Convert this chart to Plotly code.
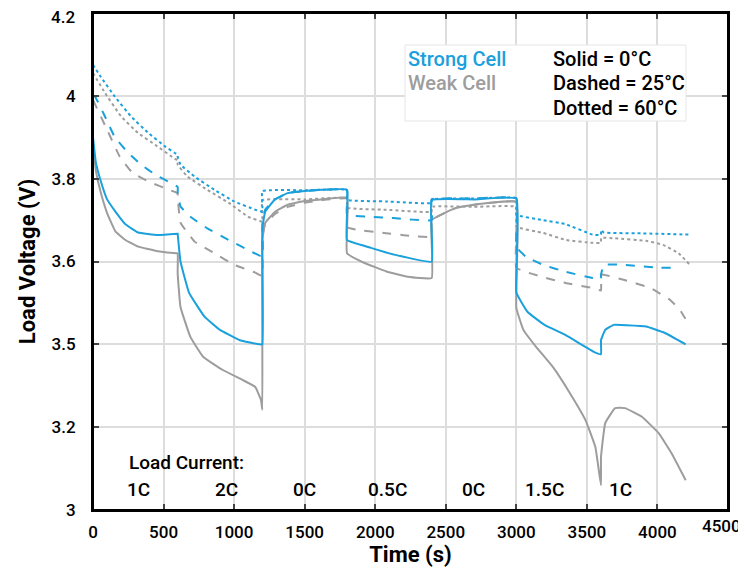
import plotly.graph_objects as go

# ---------------- data ----------------
# Strong cell, 0 degC (solid)
strong_0_t = [0, 20, 50, 100, 160, 230, 320, 460, 600,
              600, 620, 680, 790, 900, 1040, 1180, 1200,
              1200, 1220, 1290, 1380, 1500, 1620, 1800,
              1800, 1970, 2130, 2400,
              2400, 2700, 3000,
              3000, 3080, 3200, 3350, 3560, 3600,
              3600, 3630, 3690, 3780, 3920, 4050, 4200]
strong_0_v = [3.90, 3.84, 3.80, 3.75, 3.72, 3.69, 3.67, 3.664, 3.667,
              3.667, 3.60, 3.525, 3.467, 3.435, 3.41, 3.40, 3.40,
              3.68, 3.72, 3.75, 3.765, 3.77, 3.773, 3.773,
              3.652, 3.633, 3.617, 3.60,
              3.748, 3.750, 3.752,
              3.525, 3.478, 3.447, 3.422, 3.38, 3.376,
              3.41, 3.435, 3.447, 3.446, 3.443, 3.428, 3.40]

# Weak cell, 0 degC (solid)
weak_0_t = [0, 20, 50, 100, 160, 230, 320, 460, 590, 600,
            600, 620, 690, 780, 920, 1060, 1150, 1190, 1200,
            1200, 1220, 1290, 1380, 1500, 1620, 1800,
            1800, 1920, 2080, 2230, 2400,
            2400, 2490, 2580, 2700, 2820, 3000,
            3000, 3050, 3140, 3260, 3380, 3490, 3560, 3600,
            3600, 3630, 3700, 3770, 3890, 4010, 4100, 4200]
weak_0_v = [3.887, 3.82, 3.773, 3.717, 3.672, 3.652, 3.636, 3.625, 3.62, 3.62,
            3.572, 3.49, 3.418, 3.37, 3.338, 3.314, 3.297, 3.266, 3.242,
            3.65, 3.693, 3.72, 3.737, 3.746, 3.75, 3.754,
            3.62, 3.597, 3.576, 3.563, 3.56,
            3.70, 3.717, 3.73, 3.737, 3.742, 3.744,
            3.488, 3.435, 3.394, 3.345, 3.282, 3.217, 3.152, 3.06,
            3.128, 3.21, 3.246, 3.246, 3.225, 3.185, 3.137, 3.072]

# Strong cell, 25 degC (dashed)
strong_25_t = [0, 15, 85, 155, 250, 340, 440, 550, 600,
               600, 620, 690, 810, 960, 1100, 1200,
               1200, 1220, 1290, 1380, 1500, 1620, 1800,
               1800, 1970, 2130, 2400,
               2400, 2700, 3000,
               3000, 3070, 3190, 3350, 3540, 3600,
               3600, 3620, 3760, 4000, 4150]
strong_25_v = [4.00, 3.998, 3.95, 3.90, 3.862, 3.834, 3.81, 3.79, 3.78,
               3.765, 3.733, 3.708, 3.68, 3.652, 3.628, 3.612,
               3.69, 3.725, 3.75, 3.765, 3.77, 3.773, 3.773,
               3.713, 3.708, 3.705, 3.70,
               3.750, 3.752, 3.753,
               3.635, 3.611, 3.592, 3.575, 3.56, 3.557,
               3.568, 3.592, 3.592, 3.585, 3.585]

# Weak cell, 25 degC (dashed)
weak_25_t = [0, 100, 190, 280, 400, 540, 580, 600,
             600, 620, 720, 860, 1000, 1150, 1200,
             1200, 1220, 1290, 1380, 1500, 1620, 1800,
             1800, 1880, 2060, 2240, 2400,
             2400, 2490, 2580, 2700, 2820, 3000,
             3000, 3180, 3350, 3540, 3600,
             3600, 3620, 3760, 3950, 4090, 4160, 4210]
weak_25_v = [3.99, 3.918, 3.853, 3.814, 3.792, 3.773, 3.768, 3.765,
             3.757, 3.694, 3.648, 3.62, 3.592, 3.573, 3.565,
             3.66, 3.69, 3.715, 3.732, 3.742, 3.748, 3.752,
             3.683, 3.676, 3.669, 3.662, 3.66,
             3.70, 3.717, 3.73, 3.737, 3.742, 3.744,
             3.585, 3.563, 3.548, 3.536, 3.53,
             3.568, 3.568, 3.556, 3.536, 3.507, 3.483, 3.455]

# Strong cell, 60 degC (dotted)
strong_60_t = [0, 55, 155, 270, 390, 510, 580, 600,
               600, 620, 720, 860, 1000, 1150, 1200,
               1200, 1500, 1800,
               1800, 2080, 2400,
               2400, 2700, 3000,
               3000, 3190, 3350, 3540, 3600,
               3600, 3620, 3880, 4230]
strong_60_v = [4.075, 4.046, 3.998, 3.95, 3.911, 3.878, 3.862, 3.858,
               3.853, 3.834, 3.805, 3.773, 3.745, 3.725, 3.72,
               3.770, 3.772, 3.773,
               3.749, 3.745, 3.741,
               3.750, 3.752, 3.753,
               3.713, 3.70, 3.69, 3.665, 3.664,
               3.676, 3.670, 3.668, 3.665]

# Weak cell, 60 degC (dotted)
weak_60_t = [0, 85, 200, 320, 440, 580, 600,
             600, 670, 810, 960, 1100, 1180, 1200,
             1200, 1500, 1800,
             1800, 2080, 2400,
             2400, 2700, 3000,
             3000, 3190, 3350, 3540, 3600,
             3600, 3700, 3920, 4040, 4150, 4230]
weak_60_v = [4.055, 4.007, 3.95, 3.91, 3.882, 3.848, 3.845,
             3.834, 3.805, 3.773, 3.742, 3.708, 3.698, 3.696,
             3.748, 3.750, 3.753,
             3.73, 3.725, 3.72,
             3.732, 3.732, 3.732,
             3.684, 3.669, 3.652, 3.645, 3.645,
             3.657, 3.656, 3.65, 3.64, 3.62, 3.592]

# axis ticks
x_tickvals = [0, 500, 1000, 1500, 2000, 2500, 3000, 3500, 4000, 4500]
x_ticktext = ["0", "500", "1000", "1500", "2000", "2500", "3000", "3500", "4000", "4500"]
y_tickvals = [3.0, 3.2, 3.4, 3.6, 3.8, 4.0, 4.2]
y_ticktext = ["3", "3.2", "3.5", "3.6", "3.8", "4", "4.2"]

# load current labels
load_labels = ["1C", "2C", "0C", "0.5C", "0C", "1.5C", "1C"]
load_label_t = [319, 943, 1502, 2084, 2693, 3203, 3735]

# ---------------- figure ----------------
BLUE = "#1aa0dc"
GRAY = "#9d9d9d"
FONT = "Roboto"
TICKFONT = dict(family=FONT, size=17, color="black", weight=500)

fig = go.Figure()
series = [
    (weak_0_t, weak_0_v, GRAY, "solid"),
    (weak_25_t, weak_25_v, GRAY, "dash"),
    (weak_60_t, weak_60_v, GRAY, "dot"),
    (strong_0_t, strong_0_v, BLUE, "solid"),
    (strong_25_t, strong_25_v, BLUE, "dash"),
    (strong_60_t, strong_60_v, BLUE, "dot"),
]
for t, v, c, d in series:
    fig.add_trace(go.Scatter(x=t, y=v, mode="lines",
                             line=dict(color=c, width=2, dash=d, shape="spline", smoothing=0.3),
                             showlegend=False, hoverinfo="skip"))

axis_common = dict(
    showline=True, linecolor="black", linewidth=2, mirror="allticks",
    ticks="inside", ticklen=6, tickcolor="#444", tickwidth=1.5,
    showgrid=True, gridcolor="#dddddd", gridwidth=1.5, zeroline=False,
    automargin=False, ticklabeloverflow="allow",
    tickfont=TICKFONT,
)

# edge labels (last x, top y) are placed as annotations so they stay inside the page,
# nudged inward as in the reference
x_axis_text = x_ticktext[:-1] + [""]
y_axis_text = y_ticktext[:-1] + [""]

fig.update_xaxes(range=[0, 4500], tickvals=x_tickvals, ticktext=x_axis_text, ticklabelstandoff=6,
                 title=dict(text="Time (s)", font=dict(family=FONT, size=22, color="black", weight="bold"), standoff=4),
                 **axis_common)
fig.update_yaxes(range=[3.0, 4.2], tickvals=y_tickvals, ticktext=y_axis_text, ticklabelstandoff=12,
                 title=dict(text="Load Voltage (V)", font=dict(family=FONT, size=22, color="black", weight="bold"), standoff=10),
                 **axis_common)

# plot-area pixel geometry (figure is drawn at an 8px page offset)
PX0, PX1, PY0, PY1 = 93, 728, 13, 510

def px_x(px):
    return (px - PX0) / (PX1 - PX0)

def px_y(py):
    return (PY1 - py) / (PY1 - PY0)

fig.add_annotation(text=x_ticktext[-1], xref="paper", yref="paper",
                   x=px_x(743), y=px_y(526), xanchor="right", yanchor="middle",
                   showarrow=False, font=TICKFONT)
fig.add_annotation(text=y_ticktext[-1], xref="paper", yref="paper",
                   x=px_x(77), y=px_y(17), xanchor="right", yanchor="middle",
                   showarrow=False, font=TICKFONT)

# frame around the plot area
fig.add_shape(type="rect", xref="paper", yref="paper", x0=0, x1=1, y0=0, y1=1,
              line=dict(color="black", width=2), fillcolor="rgba(0,0,0,0)", layer="above")

# legend box
fig.add_shape(type="rect", xref="paper", yref="paper",
              x0=px_x(405), x1=px_x(686), y0=px_y(121), y1=px_y(45),
              line=dict(color="#e6e6e6", width=1), fillcolor="white", layer="above")

def ann(text, px, py, color):
    fig.add_annotation(text=text, xref="paper", yref="paper",
                       x=px_x(px), y=px_y(py),
                       xanchor="left", yanchor="middle", showarrow=False,
                       font=dict(family=FONT, size=20, color=color, weight=500))

ann("Strong Cell", 406, 59, BLUE)
ann("Weak Cell", 406, 83, GRAY)
ann("Solid = 0°C", 551, 59, "black")
ann("Dashed = 25°C", 551, 83, "black")
ann("Dotted = 60°C", 551, 108, "black")

fig.add_annotation(text="Load Current:", x=240, y=3.114, xref="x", yref="y",
                   xanchor="left", yanchor="middle", showarrow=False,
                   font=dict(family=FONT, size=19, color="black", weight=500))
for lab, t in zip(load_labels, load_label_t):
    fig.add_annotation(text=lab, x=t, y=3.049, xref="x", yref="y",
                       xanchor="center", yanchor="middle", showarrow=False,
                       font=dict(family=FONT, size=19, color="black", weight=500))

fig.update_layout(width=738, height=572,
                  margin=dict(l=85, r=18, t=5, b=70),
                  paper_bgcolor="white", plot_bgcolor="white")

fig.write_html("out.html")
